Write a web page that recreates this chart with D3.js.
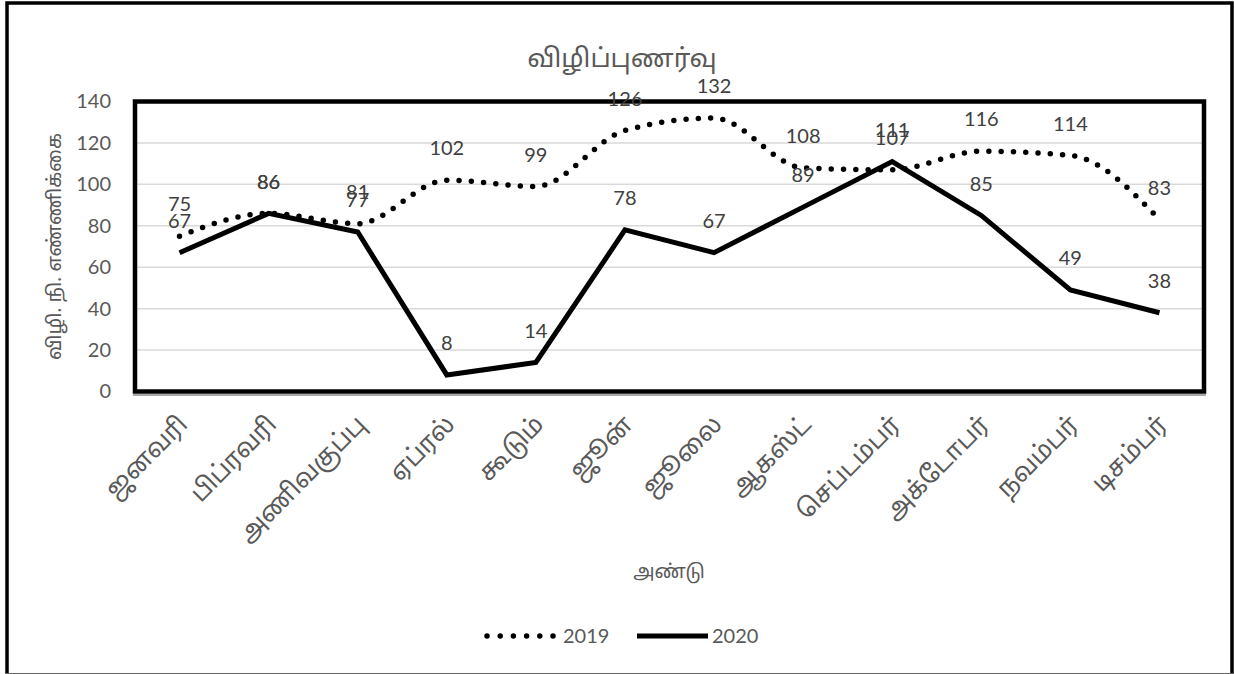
<!DOCTYPE html>
<html>
<head>
<meta charset="utf-8">
<script src="https://cdn.jsdelivr.net/npm/d3@7"></script>
<style>
    body { margin: 0; background: #fff; }
    text { font-family: Lato, "Noto Sans", sans-serif; }
    .tamil { font-family: "Noto Sans Tamil", "Latha", "Lohit Tamil", "Noto Sans", sans-serif; }
</style>
</head>
<body>
<svg id="chart" width="1234" height="674"></svg>
<script>
// chart data
var months = ["ஜனவரி", "பிப்ரவரி", "அணிவகுப்பு", "ஏப்ரல்", "கூடும்", "ஜூன்",
    "ஜூலை", "ஆகஸ்ட்", "செப்டம்பர்", "அக்டோபர்", "நவம்பர்", "டிசம்பர்"];
var values2019 = [75, 86, 81, 102, 99, 126, 132, 108, 107, 116, 114, 83];
var values2020 = [67, 86, 77, 8, 14, 78, 67, 89, 111, 85, 49, 38];
var yTicks = [0, 20, 40, 60, 80, 100, 120, 140];
var seriesNames = ["2019", "2020"];

var chartTitle = "விழிப்புணர்வு";
var yTitle = "விழி. நி. எண்ணிக்கை";
var xTitle = "அண்டு";

var svg = d3.select("#chart");

var plot = { left: 135, right: 1204, top: 101.5, bottom: 391.5 };

var x = d3.scaleBand().domain(months).range([plot.left, plot.right]);
var y = d3.scaleLinear().domain([0, 140]).range([plot.bottom, plot.top]);
var cx = function (d, i) { return x(months[i]) + x.bandwidth() / 2; };

// outer chart border (bottom is cut off by the picture)
svg.append("rect")
    .attr("x", 7).attr("y", 3)
    .attr("width", 1225).attr("height", 700)
    .attr("fill", "none").attr("stroke", "#000").attr("stroke-width", 3.5);
svg.append("line")
    .attr("x1", 5).attr("x2", 1234).attr("y1", 673.5).attr("y2", 673.5)
    .attr("stroke", "#666").attr("stroke-width", 1);

// title
svg.append("text").attr("class", "tamil")
    .attr("x", 622).attr("y", 67)
    .attr("text-anchor", "middle")
    .attr("fill", "#595959").attr("font-size", 26)
    .text(chartTitle);

// gridlines
svg.append("g").selectAll("line")
    .data(yTicks.slice(1))
    .join("line")
    .attr("x1", plot.left).attr("x2", plot.right)
    .attr("y1", function (d) { return y(d); })
    .attr("y2", function (d) { return y(d); })
    .attr("stroke", "#d9d9d9").attr("stroke-width", 1.5);

// y axis tick labels
var yAxis = d3.axisLeft(y).tickValues(yTicks).tickSize(0).tickPadding(0);
svg.append("g")
    .attr("transform", "translate(111,0)")
    .call(yAxis)
    .call(function (g) {
        g.select(".domain").remove();
        g.selectAll("text")
            .attr("font-family", "Lato, sans-serif")
            .attr("font-size", 20)
            .attr("fill", "#595959");
    });

// x axis line under the frame
svg.append("line")
    .attr("x1", plot.left - 2).attr("x2", plot.right + 2)
    .attr("y1", plot.bottom + 3.5).attr("y2", plot.bottom + 3.5)
    .attr("stroke", "#8c8c8c").attr("stroke-width", 1.5);

// plot area frame
svg.append("rect")
    .attr("x", plot.left).attr("y", plot.top)
    .attr("width", plot.right - plot.left)
    .attr("height", plot.bottom - plot.top)
    .attr("fill", "none").attr("stroke", "#000").attr("stroke-width", 4.5);

// x axis category labels
var xAxis = d3.axisBottom(x).tickSize(0).tickPadding(0);
svg.append("g")
    .attr("transform", "translate(0," + (plot.bottom + 22) + ")")
    .call(xAxis)
    .call(function (g) {
        g.select(".domain").remove();
        g.selectAll("text")
            .attr("class", "tamil")
            .attr("font-size", 25)
            .attr("fill", "#595959")
            .attr("text-anchor", "end")
            .attr("dy", "0.7em")
            .attr("transform", "translate(-3,0) rotate(-45)");
    });

// axis titles
svg.append("text").attr("class", "tamil")
    .attr("transform", "translate(61," + ((plot.top + plot.bottom) / 2) + ") rotate(-90)")
    .attr("text-anchor", "middle")
    .attr("fill", "#595959").attr("font-size", 19.5)
    .text(yTitle);

svg.append("text").attr("class", "tamil")
    .attr("x", 669).attr("y", 578)
    .attr("text-anchor", "middle")
    .attr("fill", "#595959").attr("font-size", 19)
    .text(xTitle);

// series lines
var line2019 = d3.line().x(cx).y(function (d) { return y(d); }).curve(d3.curveMonotoneX);
var line2020 = d3.line().x(cx).y(function (d) { return y(d); });

svg.append("path")
    .datum(values2019)
    .attr("d", line2019)
    .attr("fill", "none").attr("stroke", "#000")
    .attr("stroke-width", 5.5)
    .attr("stroke-linecap", "round")
    .attr("stroke-dasharray", "0 12.3");

svg.append("path")
    .datum(values2020)
    .attr("d", line2020)
    .attr("fill", "none").attr("stroke", "#000")
    .attr("stroke-width", 5)
    .attr("stroke-linejoin", "miter");

// data labels
function drawLabels(values) {
    svg.append("g").selectAll("text")
        .data(values)
        .join("text")
        .attr("x", cx)
        .attr("y", function (d) { return y(d) - 32; })
        .attr("dy", "0.36em")
        .attr("text-anchor", "middle")
        .attr("font-size", 20)
        .attr("fill", "#404040")
        .text(function (d) { return d; });
}
drawLabels(values2019);
drawLabels(values2020);

// legend
var legend = svg.append("g").attr("transform", "translate(0,636)");
legend.append("line")
    .attr("x1", 487).attr("x2", 553).attr("y1", 0).attr("y2", 0)
    .attr("stroke", "#000").attr("stroke-width", 5.5)
    .attr("stroke-linecap", "round")
    .attr("stroke-dasharray", "0 13.2");
legend.append("text")
    .attr("x", 563).attr("y", 0).attr("dy", "0.36em")
    .attr("font-size", 20).attr("fill", "#595959")
    .text(seriesNames[0]);
legend.append("line")
    .attr("x1", 637).attr("x2", 708).attr("y1", 0).attr("y2", 0)
    .attr("stroke", "#000").attr("stroke-width", 5);
legend.append("text")
    .attr("x", 712).attr("y", 0).attr("dy", "0.36em")
    .attr("font-size", 20).attr("fill", "#595959")
    .text(seriesNames[1]);
</script>
</body>
</html>
